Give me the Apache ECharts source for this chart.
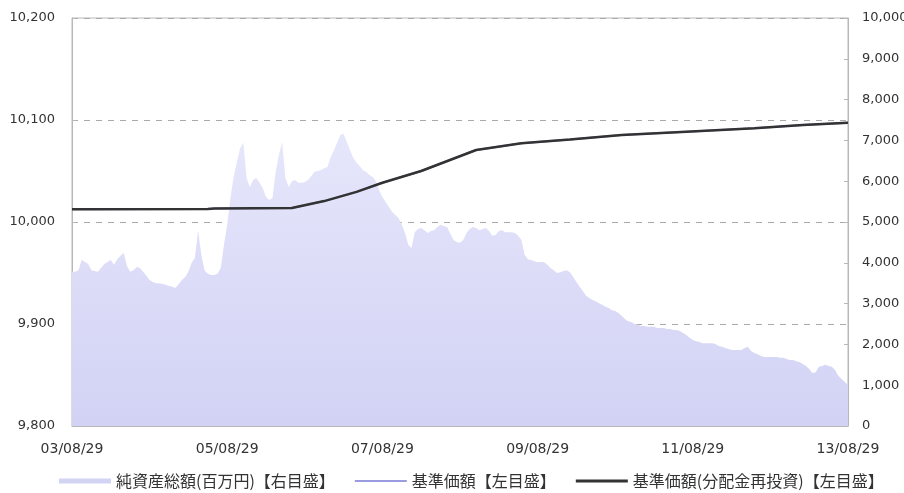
<!DOCTYPE html>
<html>
<head>
<meta charset="utf-8">
<script src="https://cdn.jsdelivr.net/npm/echarts@6/dist/echarts.min.js"></script>
<style>
html,body{margin:0;padding:0;background:#fff;}
#main{width:904px;height:493px;}
</style>
</head>
<body>
<div id="main"></div>
<script>
// Series names (legend)
var seriesNames = ['純資産総額(百万円)【右目盛】', '基準価額【左目盛】', '基準価額(分配金再投資)【左目盛】'];

// Net assets (million yen), semi-monthly from 03/08/29 to 13/08/29, right axis
var netAssets = [
3780,3780,3820,4070,4020,3970,3820,3800,3780,3870,
3970,4020,4070,3950,4090,4170,4240,3920,3780,3820,
3900,3870,3780,3680,3580,3530,3500,3500,3480,3460,
3430,3410,3380,3480,3580,3650,3780,4000,4120,4800,
4190,3820,3730,3700,3700,3730,3870,4440,4930,5590,
6100,6470,6810,6940,6080,5860,6030,6080,5960,5830,
5610,5540,5590,6230,6640,6960,6080,5860,6000,6030,
5960,5960,5980,6030,6130,6230,6250,6270,6320,6350,
6590,6760,6940,7130,7160,6960,6760,6570,6450,6370,
6270,6230,6150,6100,6000,5780,5610,5490,5370,5250,
5170,5100,4930,4730,4440,4360,4750,4830,4850,4800,
4730,4780,4800,4880,4930,4900,4880,4710,4560,4510,
4490,4560,4730,4830,4880,4850,4800,4830,4850,4780,
4660,4680,4780,4800,4750,4750,4750,4730,4660,4560,
4190,4090,4070,4040,4020,4020,4020,3950,3870,3820,
3750,3770,3800,3820,3770,3650,3530,3410,3310,3190,
3140,3090,3060,3010,2970,2920,2890,2840,2820,2770,
2700,2620,2570,2550,2500,2480,2450,2450,2430,2430,
2430,2400,2400,2400,2380,2380,2350,2350,2330,2280,
2230,2160,2110,2080,2060,2030,2030,2030,2030,2010,
1960,1940,1910,1890,1860,1860,1860,1860,1910,1940,
1840,1790,1760,1720,1690,1690,1690,1690,1690,1670,
1670,1640,1620,1620,1590,1570,1520,1470,1400,1300,
1320,1450,1470,1500,1470,1450,1370,1230,1150,1080,
1000
];

// NAV key points (left axis)
var navDates = ['03/08/29','05/05/29','05/06/29','06/06/29','06/11/29','07/04/29','07/08/29','08/02/29','08/11/14','09/06/14','10/01/29','10/09/29','11/07/29','12/06/14','13/01/29','13/08/29'];
var navValues = [10012.5,10012.7,10013.2,10013.7,10020.5,10029.5,10038.5,10050,10070.6,10077.1,10081,10085.3,10088.5,10091.8,10095.1,10097.4];
var navReinvestValues = [10012.5,10012.7,10013.2,10013.7,10020.5,10029.5,10038.5,10050,10070.6,10077.1,10081,10085.3,10088.5,10091.8,10095.1,10097.4];

// Category dates (semi-monthly)
function pad(n){return (n<10?'0':'')+n;}
var categories = [];
for (var i = 0; i < netAssets.length; i++) {
  var mAbs, day;
  if (i % 2 === 0) { mAbs = 8 + i/2; day = 29; }
  else { mAbs = 8 + (i+1)/2; day = 14; }
  var yr = 2003 + Math.floor((mAbs-1)/12);
  var mo = (mAbs-1)%12 + 1;
  if (mo === 2 && day === 29 && yr % 4 !== 0) day = 28;
  categories.push(pad(yr%100)+'/'+pad(mo)+'/'+pad(day));
}

var chart = echarts.init(document.getElementById('main'));
var axisGray = '#b8b8b8';
var labelFont = {color:'#333', fontSize:13, fontFamily:'DejaVu Sans'};
chart.setOption({
  animation:false,
  backgroundColor:'#fff',
  grid:{left:72,right:56,top:18,bottom:67,show:true,borderColor:axisGray,borderWidth:1,containLabel:false,outerBoundsMode:'none'},
  legend:{
    top:468,left:54,
    itemWidth:52,itemHeight:14,itemGap:20,
    textStyle:{fontFamily:'Noto Sans CJK JP',fontSize:16,color:'#333'},
    data:[
      {name:seriesNames[0],icon:'path://M0,0H52V5H0Z'},
      {name:seriesNames[1],icon:'path://M0,0H52V2H0Z'},
      {name:seriesNames[2],icon:'path://M0,0H52V3H0Z'}
    ]
  },
  xAxis:{
    type:'category',boundaryGap:false,data:categories,
    axisLine:{lineStyle:{color:axisGray}},
    axisTick:{inside:true,length:4,interval:47,lineStyle:{color:axisGray}},
    axisLabel:{interval:47,margin:16,showMaxLabel:true,color:'#333',fontSize:14,fontFamily:'DejaVu Sans'},
    splitLine:{show:false}
  },
  yAxis:[
    {type:'value',min:9800,max:10200,interval:100,position:'left',
     axisLine:{show:true,lineStyle:{color:axisGray}},
     axisTick:{show:true,inside:true,length:4,lineStyle:{color:axisGray}},
     axisLabel:Object.assign({margin:17,formatter:function(v){return v.toLocaleString('en-US');}},labelFont),
     splitLine:{show:true,lineStyle:{color:'#aaa',type:[6,6],width:1}}
    },
    {type:'value',min:0,max:10000,interval:1000,position:'right',
     axisLine:{show:true,lineStyle:{color:axisGray}},
     axisTick:{show:true,inside:true,length:4,lineStyle:{color:axisGray}},
     axisLabel:Object.assign({margin:14,formatter:function(v){return v.toLocaleString('en-US');}},labelFont),
     splitLine:{show:false}
    }
  ],
  series:[
    {name:seriesNames[0],type:'line',yAxisIndex:1,data:netAssets,showSymbol:false,
     color:'#d3d3f3',
     lineStyle:{width:0},
     areaStyle:{opacity:1,color:new echarts.graphic.LinearGradient(0,0,0,1,[{offset:0,color:'#e6e6fb'},{offset:1,color:'#d2d2f5'}])},
     z:1},
    {name:seriesNames[1],type:'line',yAxisIndex:0,showSymbol:false,connectNulls:true,
     data:navDates.map(function(d,k){return [d,navValues[k]];}),
     color:'#9b9be0',lineStyle:{width:2,color:'#9b9be0'},z:2},
    {name:seriesNames[2],type:'line',yAxisIndex:0,showSymbol:false,connectNulls:true,
     data:navDates.map(function(d,k){return [d,navReinvestValues[k]];}),
     color:'#333',lineStyle:{width:2.5,color:'#333'},z:3}
  ]
});
</script>
</body>
</html>
